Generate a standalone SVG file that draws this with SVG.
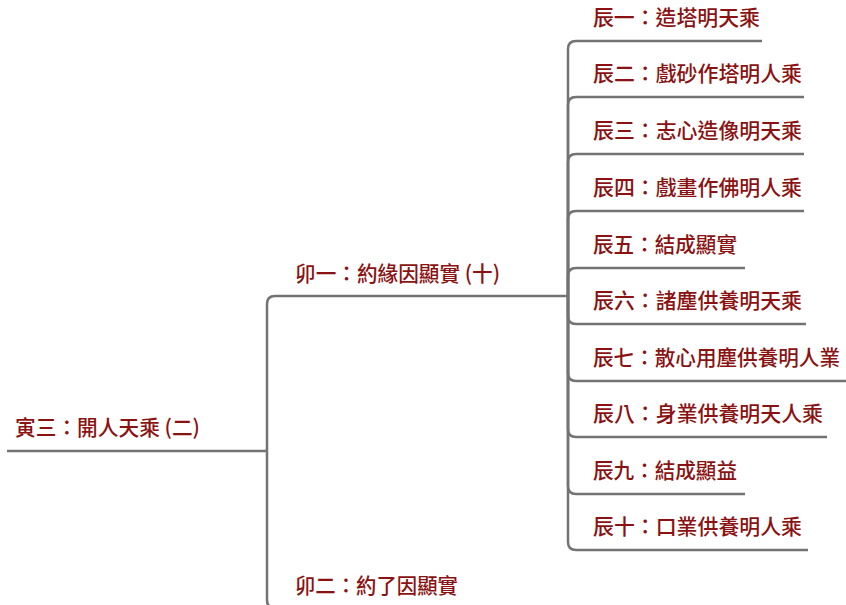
<svg xmlns="http://www.w3.org/2000/svg" width="846" height="605" viewBox="0 0 846 605">
<style>
.t{font-family:"Noto Sans CJK TC","Noto Sans CJK SC",sans-serif;font-size:21px;font-weight:500;fill:#8a1212;}
.c{fill:none;stroke:#737373;stroke-width:2.5;stroke-linecap:butt;}
</style>
<rect width="846" height="605" fill="#ffffff"/>
<g id="connectors" class="c">
<path d="M7 451 L267 451"/>
<path d="M267 451 L267 304 Q267 296 275 296 L568 296"/>
<path d="M267 451 L267 600 Q267 608 275 608 L480 608"/>
<path d="M568 296 L568 49 Q568 41 576 41 L762 41"/>
<path d="M568 296 L568 105 Q568 97 576 97 L804 97"/>
<path d="M568 296 L568 162 Q568 154 576 154 L804 154"/>
<path d="M568 296 L568 219 Q568 211 576 211 L804 211"/>
<path d="M568 296 L568 276 Q568 268 576 268 L745 268"/>
<path d="M568 296 L568 316 Q568 324 576 324 L806 324"/>
<path d="M568 296 L568 373 Q568 381 576 381 L846 381"/>
<path d="M568 296 L568 429 Q568 437 576 437 L827 437"/>
<path d="M568 296 L568 486 Q568 494 576 494 L745 494"/>
<path d="M568 296 L568 542 Q568 550 576 550 L808 550"/>
</g>
<g id="root"><text class="t" x="15" y="435" textLength="185" lengthAdjust="spacingAndGlyphs">寅三：開人天乘 (二)</text></g>
<g id="mao1"><text class="t" x="295" y="281" textLength="205" lengthAdjust="spacingAndGlyphs">卯一：約緣因顯實 (十)</text></g>
<g id="mao2"><text class="t" x="295" y="593" textLength="163" lengthAdjust="spacingAndGlyphs">卯二：約了因顯實</text></g>
<g id="chen1"><text class="t" x="593" y="25" textLength="167" lengthAdjust="spacingAndGlyphs">辰一：造塔明天乘</text></g>
<g id="chen2"><text class="t" x="593" y="81" textLength="209" lengthAdjust="spacingAndGlyphs">辰二：戲砂作塔明人乘</text></g>
<g id="chen3"><text class="t" x="593" y="138" textLength="209" lengthAdjust="spacingAndGlyphs">辰三：志心造像明天乘</text></g>
<g id="chen4"><text class="t" x="593" y="195" textLength="209" lengthAdjust="spacingAndGlyphs">辰四：戲畫作佛明人乘</text></g>
<g id="chen5"><text class="t" x="593" y="252" textLength="144" lengthAdjust="spacingAndGlyphs">辰五：結成顯實</text></g>
<g id="chen6"><text class="t" x="593" y="308" textLength="209" lengthAdjust="spacingAndGlyphs">辰六：諸塵供養明天乘</text></g>
<g id="chen7"><text class="t" x="593" y="365" textLength="247" lengthAdjust="spacingAndGlyphs">辰七：散心用塵供養明人業</text></g>
<g id="chen8"><text class="t" x="593" y="421" textLength="230" lengthAdjust="spacingAndGlyphs">辰八：身業供養明天人乘</text></g>
<g id="chen9"><text class="t" x="593" y="478" textLength="144" lengthAdjust="spacingAndGlyphs">辰九：結成顯益</text></g>
<g id="chen10"><text class="t" x="593" y="534" textLength="209" lengthAdjust="spacingAndGlyphs">辰十：口業供養明人乘</text></g>
</svg>
